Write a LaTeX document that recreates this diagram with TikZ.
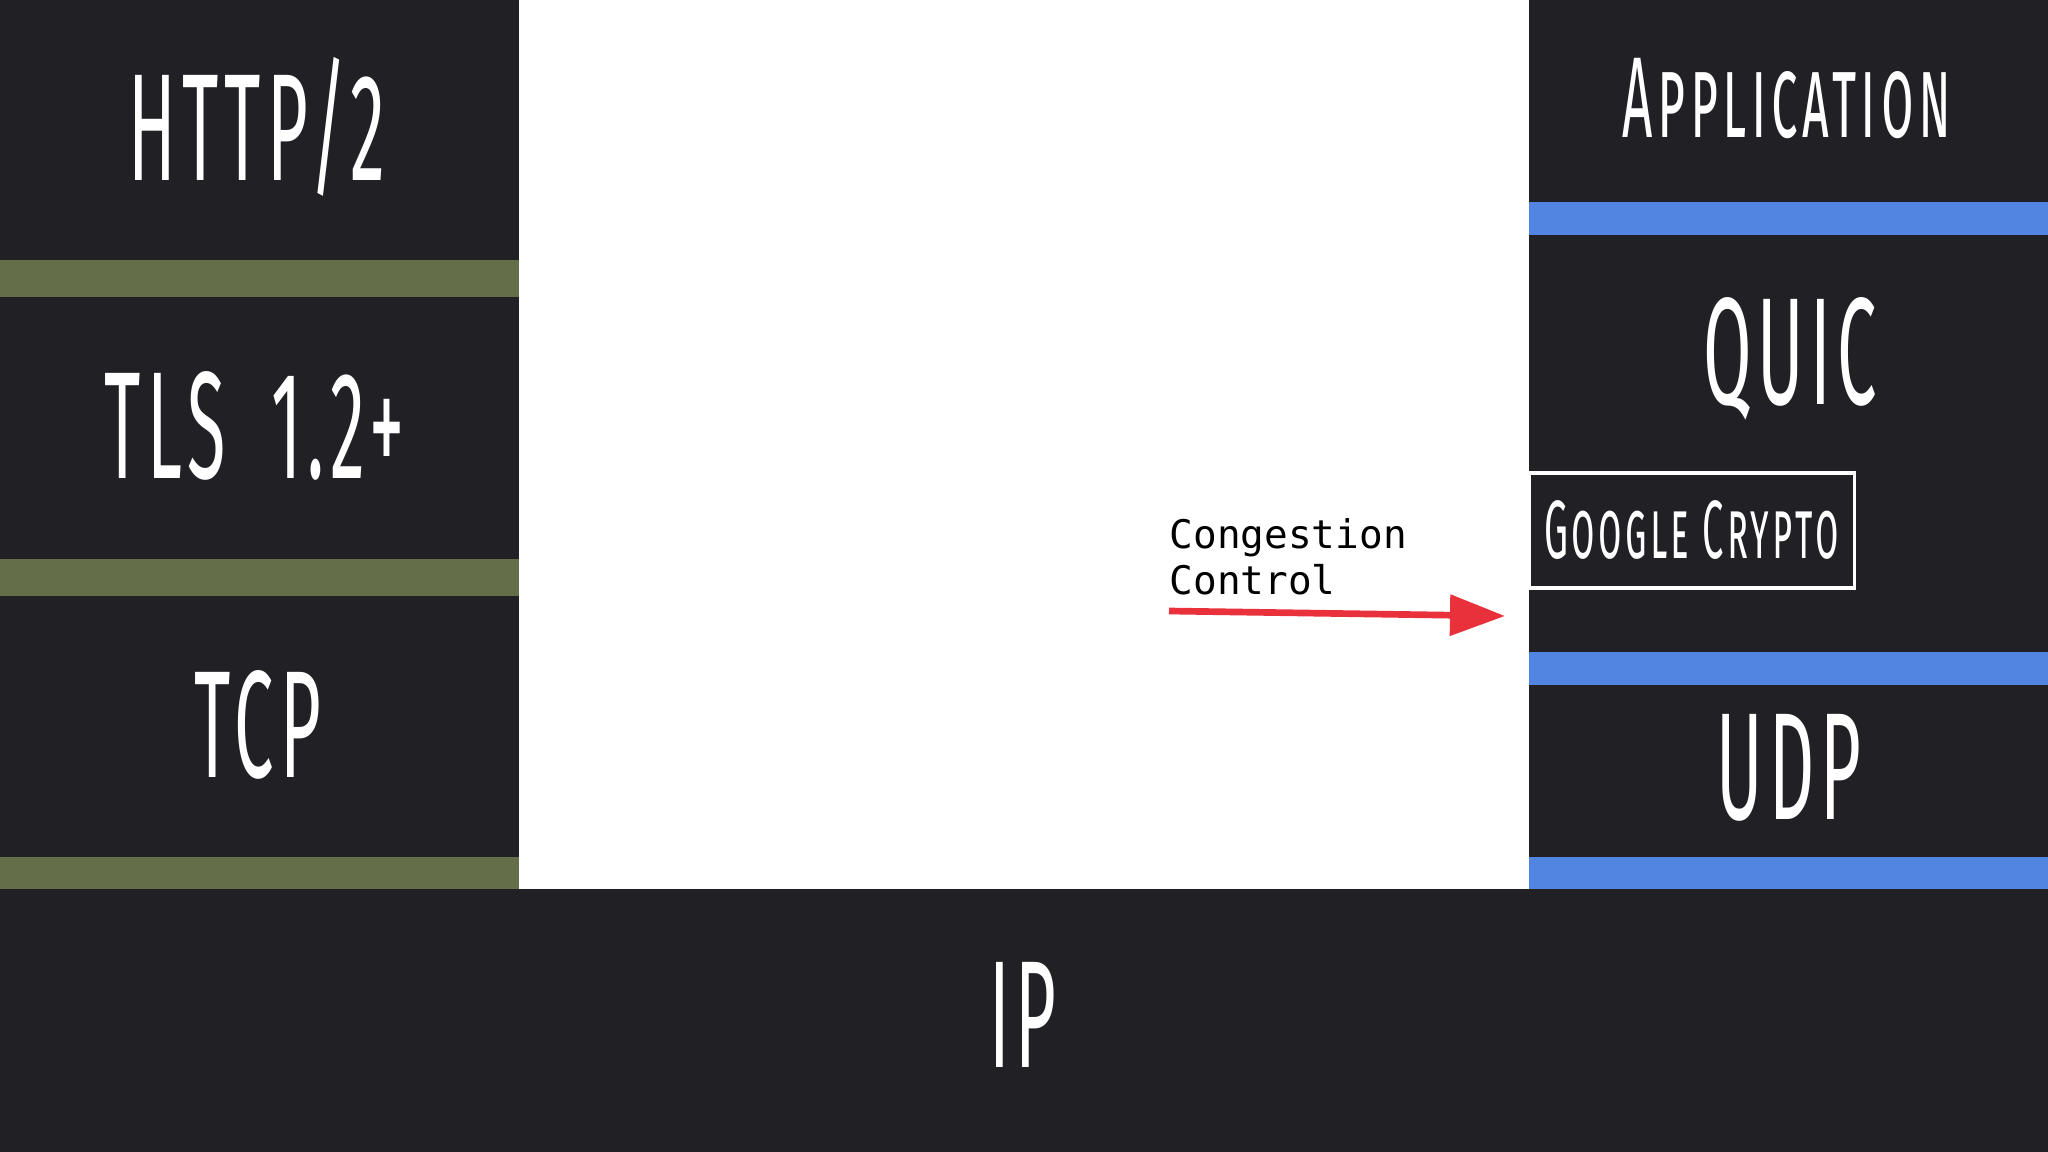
\documentclass[tikz,border=0pt]{standalone}
\usepackage{fontspec}
\usepackage{tikz}
\usetikzlibrary{positioning}
\usetikzlibrary{arrows.meta}
\newfontfamily\handfont[FakeStretch=0.46,LetterSpace=4]{Fira Sans}
\newfontfamily\codefont{DejaVu Sans Mono}
\definecolor{slate}{HTML}{212024}
\definecolor{moss}{HTML}{646F4A}
\definecolor{quicblue}{HTML}{5185E1}
\definecolor{ccred}{HTML}{E8313B}

\begin{document}
\begin{tikzpicture}[x=0.01cm,y=-0.01cm,
	layer/.style={text=white,inner sep=0pt,font=\handfont\fontsize{43.4}{50}\selectfont},
	sublayer/.style={layer,font=\handfont\fontsize{32.7}{38}\selectfont},
	cryptobox/.style={draw=white,line width=0.9pt,fill=slate,text=white,inner sep=0pt,
		minimum width=3.25cm,minimum height=1.15cm,font=\handfont\fontsize{23.5}{28}\selectfont},
	cclabel/.style={align=left,inner sep=0pt,font=\codefont\fontsize{11.2}{13.1}\selectfont}]
	\useasboundingbox (0,0) rectangle (2048,1152);
	\fill[white] (0,0) rectangle (2048,1152);
	\fill[slate] (0,0) rectangle (519,889);
	\fill[slate] (1529,0) rectangle (2048,889);
	\foreach \y in {260,559,857} \fill[moss] (0,\y) rectangle (519,\y+37);
	\foreach \y in {202,652,857} \fill[quicblue] (1529,\y) rectangle (2048,\y+33);
	\fill[slate] (0,889) rectangle (2048,1152);
	\node[layer] (http) at (257,127) {HTTP/2};
	\node[layer] (tls) at (255,426) {TLS\hspace{6pt} 1.2+};
	\node[layer] (tcp) at (258,725) {TCP};
	\node[sublayer] (app) at (1787,99) {\scshape Application};
	\node[layer] (quic) at (1790,359) {QUIC};
	\node[cryptobox] (crypto) at (1691.5,530.5) {\scshape Google Crypto};
	\node[layer] (udp) at (1789,768) {UDP};
	\node[layer] (ip) at (1023,1015) {IP};
	\node[cclabel,anchor=north west] (cc) at (1169,518) {Congestion\\Control};
	\coordinate (ccfrom) at (1169,611);
	\coordinate (ccto) at (1505,616);
	\draw[ccred,line width=1.9pt,-{Triangle[length=0.55cm,width=0.40cm]}] (ccfrom) -- (ccto);
\end{tikzpicture}
\end{document}
